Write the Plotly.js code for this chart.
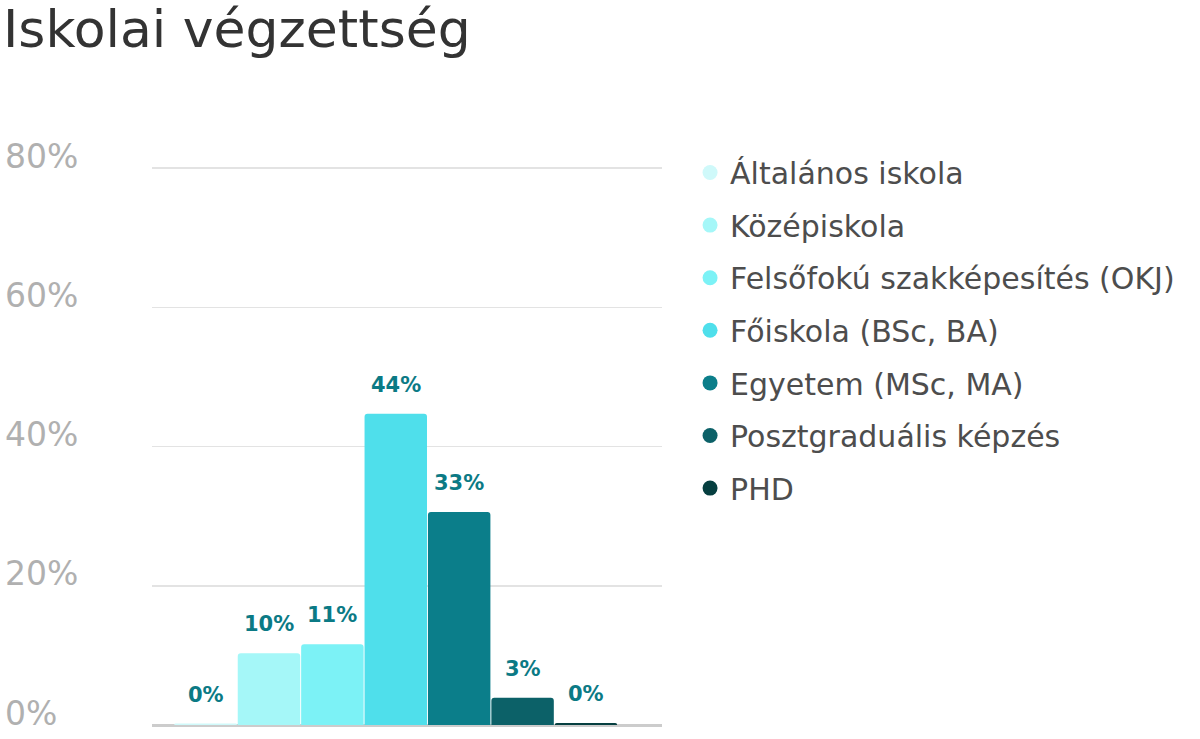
<!DOCTYPE html>
<html>
<head>
<meta charset="utf-8">
<script src="https://cdn.plot.ly/plotly-3.0.1.min.js"></script>
<style>html,body{margin:0;padding:0;background:#fff}#chart{width:1200px;height:739px}</style>
</head>
<body>
<div id="chart"></div>
<script>
// Data
var categories = ["Általános iskola", "Középiskola", "Felsőfokú szakképesítés (OKJ)", "Főiskola (BSc, BA)", "Egyetem (MSc, MA)", "Posztgraduális képzés", "PHD"];
var values = [0.2, 10.3, 11.6, 44.7, 30.6, 3.9, 0.3];
var valueLabels = ["0%", "10%", "11%", "44%", "33%", "3%", "0%"];
var colors = ["#cff9fa", "#a5f7f8", "#7cf2f6", "#4fdfeb", "#0b7e8a", "#0c6168", "#063f40"];
var yTickValues = [0, 20, 40, 60, 80];
var yTickLabels = ["0%", "20%", "40%", "60%", "80%"];
var chartTitle = "Iskolai végzettség";

var FONT = "DejaVu Sans";
var traces = [];
var annotations = [];
categories.forEach(function (name, i) {
  traces.push({
    type: "bar", x: [i], y: [values[i]], width: 0.985, name: name,
    marker: { color: colors[i] }, showlegend: false, hoverinfo: "name+y"
  });
  annotations.push({
    x: i, y: values[i], xref: "x", yref: "y", text: valueLabels[i],
    showarrow: false, yanchor: "bottom", yshift: 15,
    font: { family: FONT, size: 21, color: "#0b7a85", weight: "bold" }
  });
});
categories.forEach(function (name, i) {
  traces.push({
    type: "scatter", mode: "markers", x: [null], y: [null], name: name,
    legendgroup: "g" + i,
    marker: { color: colors[i], size: 15, symbol: "circle" }, hoverinfo: "skip"
  });
});
yTickValues.forEach(function (v, i) {
  annotations.push({
    x: -0.292, xref: "paper", y: v, yref: "y", text: yTickLabels[i],
    showarrow: false, xanchor: "left", yanchor: "middle", yshift: 12,
    font: { family: FONT, size: 33, color: "#b0b0b0" }
  });
});

var layout = {
  width: 1200, height: 739,
  margin: { l: 152, r: 538, t: 165, b: 14 },
  paper_bgcolor: "#fff", plot_bgcolor: "#fff",
  barmode: "overlay", barcornerradius: 3,
  title: {
    text: chartTitle, x: 3 / 1200, xref: "container", xanchor: "left",
    y: 1 - 29 / 739, yref: "container", yanchor: "middle",
    font: { family: FONT, size: 52, color: "#333333" }
  },
  xaxis: {
    range: [-0.845, 7.199], showgrid: false, zeroline: false,
    showticklabels: false, ticks: "", showline: false, fixedrange: true
  },
  yaxis: {
    range: [0, 80 * 560 / 557], tickvals: yTickValues, showticklabels: false,
    showgrid: true, gridcolor: "#e3e3e3", gridwidth: 1.5,
    zeroline: true, zerolinecolor: "#cccccc", zerolinewidth: 3,
    ticks: "", showline: false, fixedrange: true
  },
  legend: {
    x: 1.055, xanchor: "left", y: 1.033, yanchor: "top",
    font: { family: FONT, size: 30, color: "#4d4d4d" },
    tracegroupgap: 10.6, itemsizing: "trace", bgcolor: "rgba(0,0,0,0)"
  },
  annotations: annotations,
  showlegend: true
};

Plotly.newPlot("chart", traces, layout, { displayModeBar: false, staticPlot: true });
</script>
</body>
</html>
